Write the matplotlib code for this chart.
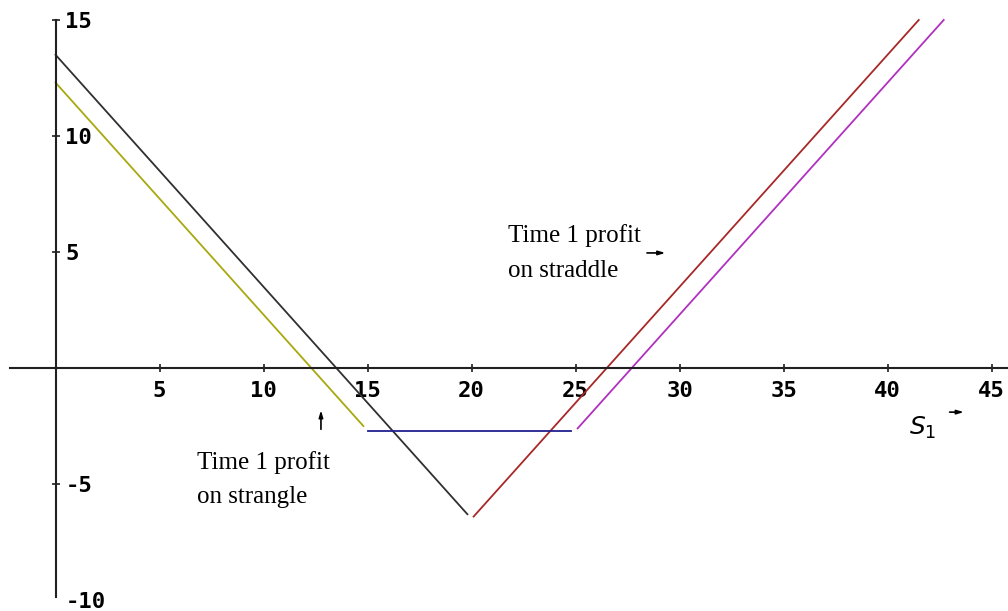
import matplotlib
matplotlib.use("Agg")
import matplotlib.pyplot as plt

# payoff segments (S1, profit)
straddle_put_x = [0, 19.8]
straddle_put_y = [13.5, -6.3]
straddle_call_x = [20.1, 41.5]
straddle_call_y = [-6.4, 15]
strangle_put_x = [0, 14.8]
strangle_put_y = [12.3, -2.5]
strangle_flat_x = [15, 24.8]
strangle_flat_y = [-2.7, -2.7]
strangle_call_x = [25.1, 42.7]
strangle_call_y = [-2.6, 15]

xticks = [5, 10, 15, 20, 25, 30, 35, 40, 45]
yticks = [-10, -5, 5, 10, 15]

fig = plt.figure(figsize=(10.08, 6.11), dpi=100)
ax = fig.add_axes([0, 0, 1, 1])

lw = 1.3
ax.plot(straddle_put_x, straddle_put_y, color="#303030", lw=lw)
ax.plot(straddle_call_x, straddle_call_y, color="#a82828", lw=lw)
ax.plot(strangle_put_x, strangle_put_y, color="#a8a810", lw=lw)
ax.plot(strangle_flat_x, strangle_flat_y, color="#202090", lw=lw)
ax.plot(strangle_call_x, strangle_call_y, color="#b030c0", lw=lw)

ax.set_xlim(-2.67, 45.79)
ax.set_ylim(-10.47, 15.86)

for s in ["top", "right"]:
    ax.spines[s].set_visible(False)
ax.spines["left"].set_position(("data", 0))
ax.spines["bottom"].set_position(("data", 0))
ax.spines["left"].set_bounds(-9.87, 15)
ax.spines["bottom"].set_bounds(-2.2, 45.79)
for s in ["left", "bottom"]:
    ax.spines[s].set_linewidth(1.5)
    ax.spines[s].set_color("#202020")

tick_font = dict(family="DejaVu Sans Mono", weight="bold", size=16)
ax.set_xticks(xticks)
ax.set_xticklabels([str(t) for t in xticks], **tick_font)
ax.set_yticks(yticks)
ax.set_yticklabels([str(t) for t in yticks], **tick_font)
ax.tick_params(axis="both", direction="inout", length=6, width=1.2, color="#202020")
ax.tick_params(axis="x", pad=6)
ax.tick_params(axis="y", pad=-10)
for lab in ax.get_yticklabels():
    lab.set_ha("left")
ax.yaxis.get_major_ticks()[0].tick1line.set_visible(False)

serif = dict(family="Liberation Serif", size=18, va="baseline", ha="left")
arrow = dict(arrowstyle="-|>,head_length=0.4,head_width=0.12", color="black", lw=1.2)

ax.text(6.8, -4.35, "Time 1 profit", **serif)
ax.text(6.8, -5.82, "on strangle", **serif)
ax.annotate("", xy=(12.76, -1.7), xytext=(12.76, -2.76), arrowprops=arrow)

ax.text(21.75, 5.43, "Time 1 profit", **serif)
ax.text(21.75, 3.92, "on straddle", **serif)
ax.annotate("", xy=(29.45, 4.96), xytext=(28.3, 4.96), arrowprops=arrow)

ax.text(41.05, -2.6, "$S_1$", ha="left", va="center", size=18,
        family="DejaVu Sans")
ax.annotate("", xy=(43.8, -1.9), xytext=(42.85, -1.9), arrowprops=arrow)

fig.savefig("out.png", dpi=100)
